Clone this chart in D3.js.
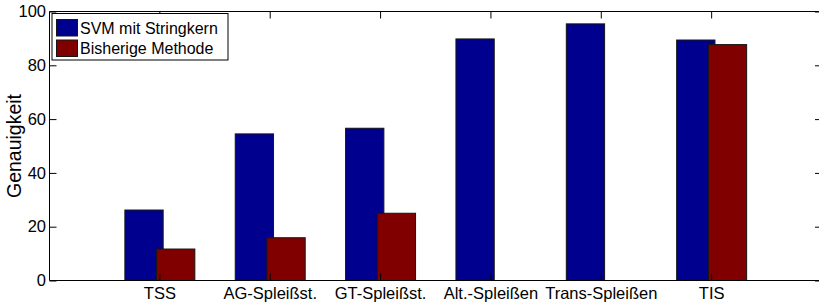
<!DOCTYPE html>
<html><head><meta charset="utf-8">
<script src="https://cdn.jsdelivr.net/npm/d3@7"></script>
<style>
html,body{margin:0;padding:0;background:#fff;}
svg{display:block;font-family:"Liberation Sans",Arial,Helvetica,sans-serif;}
</style></head>
<body>
<svg id="chart" width="819" height="302"></svg>
<script>
const categories = ["TSS","AG-Spleißst.","GT-Spleißst.","Alt.-Spleißen","Trans-Spleißen","TIS"];
const seriesNames = ["SVM mit Stringkern","Bisherige Methode"];
const svmValues = [26.2, 54.5, 56.6, 89.8, 95.4, 89.4];
const oldValues = [11.7, 15.9, 25.0, null, null, 87.7];
const yTicks = [0, 20, 40, 60, 80, 100];
const colors = ["#00008f", "#800000"];
const yLabel = "Genauigkeit";

(function () {
const svg = d3.select("#chart");
const pL = 49.5, pR = 822, pT = 11.5, pB = 280.5;

const x = d3.scaleBand().domain(categories).range([pL, pR]).paddingInner(0).paddingOuter(0.5);
const y = d3.scaleLinear().domain([0, 100]).range([pB, pT]);
const step = x.step();
const cx = c => x(c) + x.bandwidth() / 2;
const barW = 0.347 * step;
const offsets = [-0.317 * step, -0.030 * step];

const series = [svmValues, oldValues];
series.forEach((vals, si) => {
  svg.append("g").selectAll("rect")
    .data(categories.map((c, i) => ({c, v: vals[i]})).filter(d => d.v != null))
    .join("rect")
    .attr("x", d => cx(d.c) + offsets[si])
    .attr("y", d => y(d.v))
    .attr("width", barW)
    .attr("height", d => y(0) - y(d.v))
    .attr("fill", colors[si])
    .attr("stroke", "#151515")
    .attr("stroke-width", 1);
});

const axG = svg.append("g");
axG.append("line").attr("x1", pL).attr("x2", pR).attr("y1", pT).attr("y2", pT).attr("stroke", "#000");
axG.append("line").attr("x1", pL).attr("x2", pR).attr("y1", pB).attr("y2", pB).attr("stroke", "#000");
axG.append("line").attr("x1", pL).attr("x2", pL).attr("y1", pT).attr("y2", pB).attr("stroke", "#000");
axG.append("line").attr("x1", pR).attr("x2", pR).attr("y1", pT).attr("y2", pB).attr("stroke", "#000");

const yAxis = d3.axisLeft(y).tickValues(yTicks).tickSizeInner(-7).tickSizeOuter(0).tickPadding(3.5);
const gy = svg.append("g").attr("transform", `translate(${pL},0)`).call(yAxis);
gy.select(".domain").remove();
gy.selectAll("text").attr("font-size", 16.5).attr("fill", "#000").attr("font-family", "Liberation Sans, Arial, sans-serif");
gy.selectAll("line").attr("stroke", "#000");
const gyr = svg.append("g").attr("transform", `translate(${pR},0)`).call(d3.axisRight(y).tickValues(yTicks).tickSizeInner(-7).tickSizeOuter(0).tickFormat(""));
gyr.select(".domain").remove();
gyr.selectAll("line").attr("stroke", "#000");

const xAxis = d3.axisBottom(x).tickSizeInner(-7).tickSizeOuter(0).tickPadding(6.5);
const gx = svg.append("g").attr("transform", `translate(0,${pB})`).call(xAxis);
gx.select(".domain").remove();
gx.selectAll("text").attr("font-size", 16.5).attr("fill", "#000").attr("font-family", "Liberation Sans, Arial, sans-serif");
gx.selectAll("line").attr("stroke", "#000");
const gxt = svg.append("g").attr("transform", `translate(0,${pT})`).call(d3.axisTop(x).tickSizeInner(-7).tickSizeOuter(0).tickFormat(""));
gxt.select(".domain").remove();
gxt.selectAll("line").attr("stroke", "#000");

svg.append("text")
  .attr("transform", `translate(21,${(pT + pB) / 2}) rotate(-90)`)
  .attr("text-anchor", "middle")
  .attr("font-size", 19.5)
  .attr("fill", "#000")
  .text(yLabel);

const lg = svg.append("g");
lg.append("rect").attr("x", 52).attr("y", 13.5).attr("width", 176).attr("height", 46.5)
  .attr("fill", "#fff").attr("stroke", "#000").attr("stroke-width", 1);
seriesNames.forEach((n, i) => {
  const yy = 19.5 + i * 20.5;
  lg.append("rect").attr("x", 56.5).attr("y", yy).attr("width", 21).attr("height", 16.5)
    .attr("fill", colors[i]).attr("stroke", "#151515").attr("stroke-width", 1);
  lg.append("text").attr("x", 80).attr("y", yy + 14).attr("font-size", 16).attr("fill", "#000").text(n);
});
})();
</script>
</body></html>
